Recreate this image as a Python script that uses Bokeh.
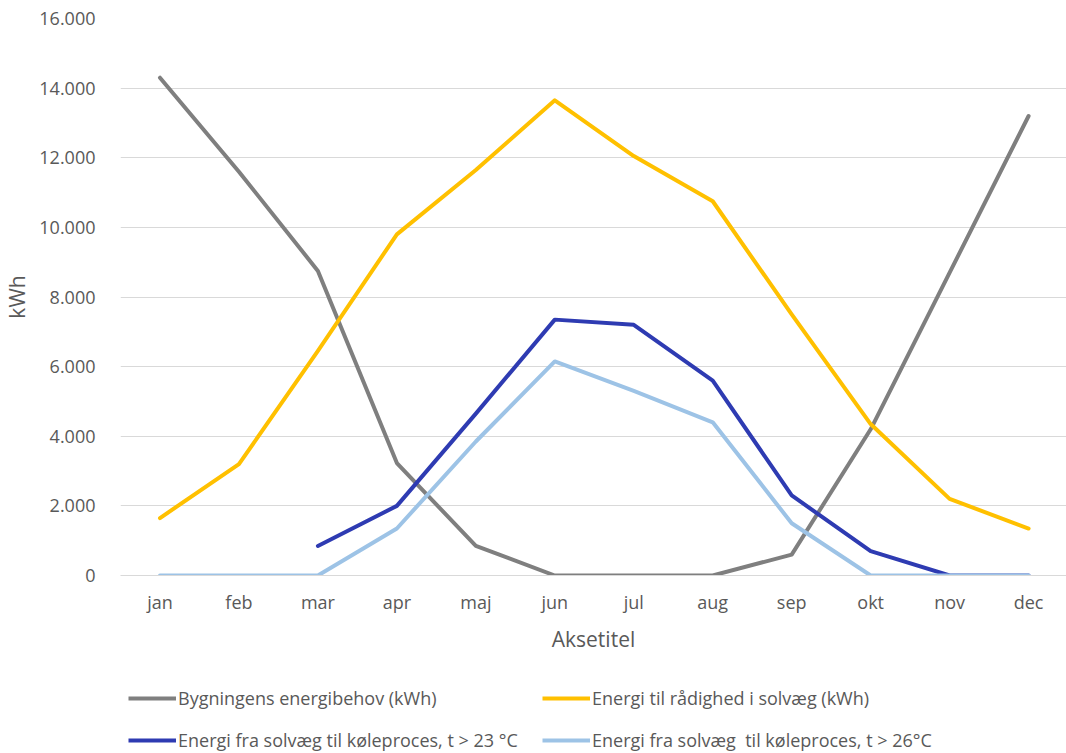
import math
from bokeh.plotting import figure
from bokeh.layouts import column
from bokeh.models import Range1d, FixedTicker, Legend, LegendItem, ColumnDataSource
from bokeh.embed import file_html
from bokeh.resources import INLINE

months = ["jan", "feb", "mar", "apr", "maj", "jun", "jul", "aug", "sep", "okt", "nov", "dec"]
energibehov = [14300, 11600, 8750, 3230, 850, 0, 0, 0, 600, 4200, 8700, 13200]
raadighed = [1650, 3200, 6450, 9800, 11650, 13650, 12050, 10750, 7500, 4350, 2200, 1350]
koele23 = [math.nan, math.nan, 850, 2000, 4650, 7350, 7200, 5600, 2300, 700, 0, 0]
koele26 = [0, 0, 0, 1350, 3850, 6150, 5300, 4400, 1500, 0, 0, 0]
y_ticks = [0, 2000, 4000, 6000, 8000, 10000, 12000, 14000, 16000]
y_tick_labels = ["0", "2.000", "4.000", "6.000", "8.000", "10.000", "12.000", "14.000", "16.000"]

names = [
    "Bygningens energibehov (kWh)",
    "Energi til rådighed i solvæg (kWh)",
    "Energi fra solvæg til køleproces, t > 23 °C",
    "Energi fra solvæg  til køleproces, t > 26°C",
]
colors = ["#7F7F7F", "#FFC000", "#2E3BB2", "#9DC3E6"]
series = [energibehov, raadighed, koele23, koele26]

FONT = "Open Sans"
TXT = "#595959"

x = list(range(len(months)))

# ---- main chart ----
p = figure(width=1066, height=660, output_backend="svg", toolbar_location=None,
           x_range=Range1d(-0.5, 11.48), y_range=Range1d(0, 16000),
           min_border_left=120, min_border_right=0, min_border_top=18,
           min_border_bottom=85)
p.outline_line_color = None
p.background_fill_color = "white"
p.border_fill_color = "white"

p.xgrid.grid_line_color = None
p.ygrid.grid_line_color = "#D9D9D9"
p.ygrid.grid_line_width = 1

p.xaxis.ticker = FixedTicker(ticks=x)
p.xaxis.major_label_overrides = {i: m for i, m in enumerate(months)}
p.yaxis.ticker = FixedTicker(ticks=y_ticks)
p.yaxis.major_label_overrides = {t: l for t, l in zip(y_ticks, y_tick_labels)}

for ax in (p.xaxis[0], p.yaxis[0]):
    ax.major_tick_line_color = None
    ax.minor_tick_line_color = None
    ax.major_label_text_font = FONT
    ax.major_label_text_color = TXT
    ax.major_label_text_font_size = "18px"
    ax.axis_label_text_font = FONT
    ax.axis_label_text_font_style = "normal"
    ax.axis_label_text_color = TXT
    ax.axis_label_text_font_size = "21px"

p.xaxis.axis_line_color = "#D9D9D9"
p.yaxis.axis_line_color = None
p.xaxis.major_label_standoff = 8
p.xaxis.axis_label = "Aksetitel"
p.xaxis.axis_label_standoff = 8
p.yaxis.major_label_standoff = 19
p.yaxis.axis_label = "kWh"
p.yaxis.axis_label_standoff = 5

for vals, col in zip(series, colors):
    src = ColumnDataSource(dict(x=x, y=vals))
    p.line("x", "y", source=src, line_color=col, line_width=4, line_join="round",
           line_cap="round")

# ---- legend strip (series drawn out of view; only the legend shows) ----
lg = figure(width=1066, height=93, output_backend="svg", toolbar_location=None,
            x_range=Range1d(-0.5, 11.48), y_range=Range1d(30000, 31000),
            x_axis_location=None, y_axis_location=None, min_border=0)
lg.outline_line_color = None
lg.grid.visible = False
lg_renderers = []
for vals, col in zip(series, colors):
    src = ColumnDataSource(dict(x=x, y=vals))
    r = lg.line("x", "y", source=src, line_color=col, line_width=4)
    lg_renderers.append(r)

items = [LegendItem(label=n, renderers=[r]) for n, r in zip(names, lg_renderers)]
legend = Legend(items=items, ncols=2, location=(8, 0), orientation="horizontal")
legend.label_text_font = FONT
legend.label_text_font_size = "18px"
legend.label_text_color = TXT
legend.glyph_width = 48
legend.glyph_height = 26
legend.label_height = 26
legend.label_standoff = 2
legend.label_width = 348
legend.spacing = 16
legend.padding = 0
legend.margin = 0
legend.border_line_color = None
legend.background_fill_alpha = 0
lg.add_layout(legend)

layout = column(p, lg, spacing=0)
open("out.html", "w").write(file_html(layout, INLINE))
